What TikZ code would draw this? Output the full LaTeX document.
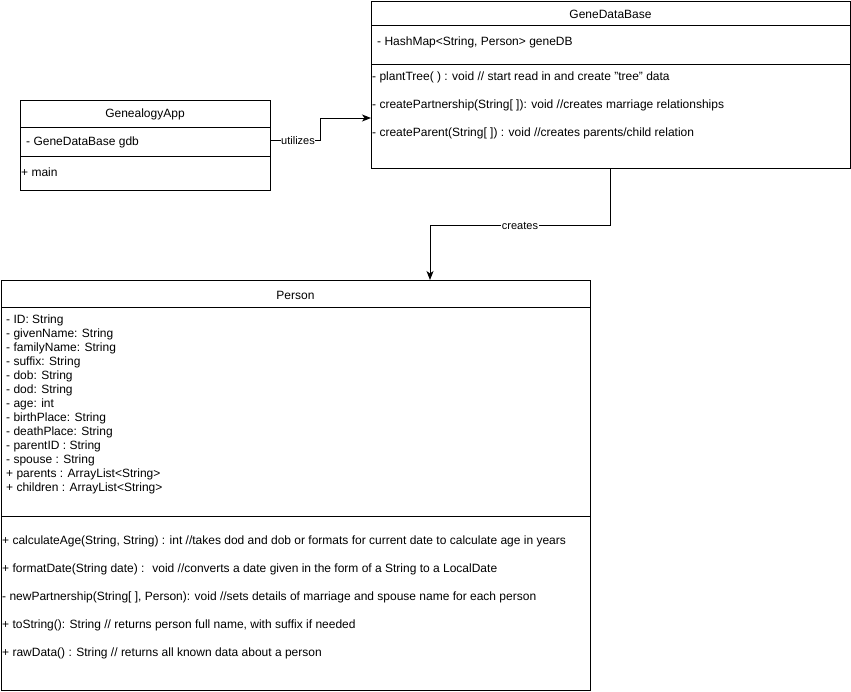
\documentclass[tikz,border=0pt]{standalone}
\usepackage{fontspec}
\setmainfont{Liberation Sans}
\usetikzlibrary{arrows.meta}
\begin{document}
\begin{tikzpicture}[x=1pt,y=-1pt,
  box/.style={draw=black,line width=1pt},
  sep/.style={draw=black,line width=1pt},
  txt/.style={anchor=west,inner sep=0pt,yshift=-1.5pt,font=\fontsize{12}{14}\selectfont},
  ttl/.style={anchor=center,inner sep=0pt,yshift=-1pt,font=\fontsize{12}{14}\selectfont},
  conn/.style={draw=black,line width=1pt,-{Stealth[length=9pt,width=7pt,inset=2.5pt]}},
  lbl/.style={fill=white,inner sep=0.5pt,yshift=-0.5pt,font=\fontsize{11}{13}\selectfont}]
\useasboundingbox (0,0) rectangle (851,691);
\fill[white] (0,0) rectangle (851,691);
% GenealogyApp
\node[box,minimum width=250pt,minimum height=90pt,inner sep=0pt,anchor=north west] (app) at (20,100) {};
\draw[sep] (20,127) -- (270,127);
\draw[sep] (20,156) -- (270,156);
\node[ttl] (appt) at (145,113) {GenealogyApp};
\node[txt] (appa) at (26,140.5) {- GeneDataBase gdb};
\node[txt] (appm) at (21,171) {+ main};
% GeneDataBase
\node[box,minimum width=479pt,minimum height=167pt,inner sep=0pt,anchor=north west] (db) at (371,1) {};
\draw[sep] (371,25) -- (850,25);
\draw[sep] (371,64) -- (850,64);
\node[ttl] (dbt) at (610.5,13.5) {GeneDataBase};
\node[txt] (dba) at (377,41) {- HashMap<String, Person> geneDB};
\node[txt] (dbm1) at (372,76) {- plantTree( ) : void // start read in and create "tree" data};
\node[txt] (dbm2) at (372,104) {- createPartnership(String[ ]): void //creates marriage relationships};
\node[txt] (dbm3) at (372,132) {- createParent(String[ ]) : void //creates parents/child relation};
% Person
\node[box,minimum width=589pt,minimum height=410pt,inner sep=0pt,anchor=north west] (per) at (1,280) {};
\draw[sep] (1,307) -- (590,307);
\draw[sep] (1,516) -- (590,516);
\node[ttl] (pert) at (295.5,294) {Person};
\node[txt] (p1) at (6,319) {- ID: String};
\node[txt] (p2) at (6,333) {- givenName: String};
\node[txt] (p3) at (6,347) {- familyName: String};
\node[txt] (p4) at (6,361) {- suffix: String};
\node[txt] (p5) at (6,375) {- dob: String};
\node[txt] (p6) at (6,389) {- dod: String};
\node[txt] (p7) at (6,403) {- age: int};
\node[txt] (p8) at (6,417) {- birthPlace: String};
\node[txt] (p9) at (6,431) {- deathPlace: String};
\node[txt] (p10) at (6,445) {- parentID : String};
\node[txt] (p11) at (6,459) {- spouse : String};
\node[txt] (p12) at (6,473) {+ parents : ArrayList<String>};
\node[txt] (p13) at (6,487) {+ children : ArrayList<String>};
\node[txt] (m1) at (2,540) {+ calculateAge(String, String) : int //takes dod and dob or formats for current date to calculate age in years};
\node[txt] (m2) at (2,568) {+ formatDate(String date) : \ void //converts a date given in the form of a String to a LocalDate};
\node[txt] (m3) at (2,596) {- newPartnership(String[ ], Person): void //sets details of marriage and spouse name for each person};
\node[txt] (m4) at (2,624) {+ toString(): String // returns person full name, with suffix if needed};
\node[txt] (m5) at (2,652) {+ rawData() : String // returns all known data about a person};
% connectors
\coordinate (u1) at (270,140);
\coordinate (u2) at (371,118);
\draw[conn] (u1) -- (320,140) -- (320,118) -- (u2);
\node[lbl] (ul) at (298,140) {utilizes};
\coordinate (c1) at (610,168);
\coordinate (c2) at (430,280);
\draw[conn] (c1) -- (610,225) -- (430,225) -- (c2);
\node[lbl] (cl) at (520,225) {creates};
\end{tikzpicture}
\end{document}
